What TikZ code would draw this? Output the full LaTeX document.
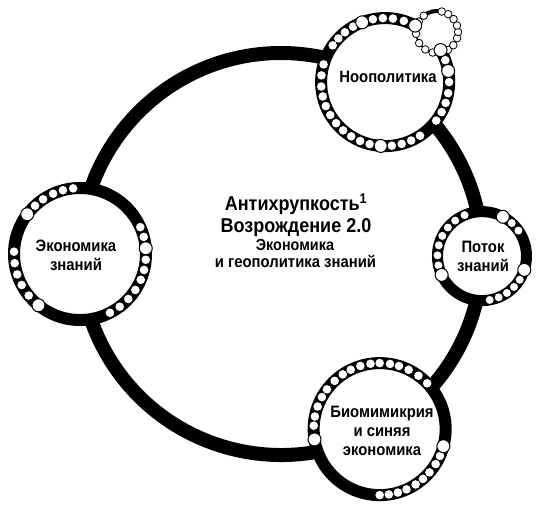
\documentclass[tikz,border=0pt]{standalone}
\usepackage{fontspec}
\setmainfont{Liberation Sans}[FakeStretch=0.9]

\begin{document}
\begin{tikzpicture}[x=1pt,y=1pt,
    spoke/.style={black,line width=14pt},
    ring/.style={black,line width=12pt},
    thinring/.style={black,line width=11pt},
    bead/.style={fill=white},
    bigbead/.style={fill=white,draw=black,line width=1pt},
    beadlet/.style={fill=white,draw=black,line width=0.8pt},
    lbl/.style={align=center,font=\fontsize{16.5}{19}\selectfont\bfseries}]
            \tikzstyle{every node}+=[inner sep=0pt]
            \useasboundingbox (0,0) rectangle (539,-508);
            \coordinate (hub) at (281,-254);
            \coordinate (econ) at ([shift={(180:201)}]hub);
            \coordinate (noo) at ([shift={(58.8:201)}]hub);
            \coordinate (flow) at ([shift={(-0.6:201)}]hub);
            \coordinate (bio) at ([shift={(-60.6:201)}]hub);
            \coordinate (bubble) at (437,-32);
            \draw [spoke] (econ) arc [start angle=180, end angle=58.8, radius=201];
            \draw [spoke] (noo) arc [start angle=58.8, end angle=-0.6, radius=201];
            \draw [spoke] (flow) arc [start angle=-0.6, end angle=-60.6, radius=201];
            \draw [spoke] (bio) arc [start angle=-60.6, end angle=-180, radius=201];
            \fill [white] (econ) circle (66);
            \draw [ring] (econ) circle (66);
            \foreach \a in {96,105,114,124,133,178,188,198,208,219,24,15,-5,-14,-23,-33,-43,-53,-63}
                \fill [bead] ([shift={(\a:66)}]econ) circle (4.3);
            \foreach \a in {143,231,5}
                \filldraw [bigbead] ([shift={(\a:66)}]econ) circle (6.5);
            \node [lbl] (econtext) at (76,-255) {Экономика\\знаний};
            \fill [white] (noo) circle (64);
            \draw [ring] (noo) circle (64);
            \foreach \a in {164,174,-176,-167,-158,-149,-140,-131,-122,-113,-104,-84,-75,-66,-57,-37,-28,-19,-10,0,20,73,83,92,101,120,129,137,145}
                \fill [bead] ([shift={(\a:64)}]noo) circle (4.3);
            \fill [white] (bubble) circle (21);
            \draw [black,line width=1.5pt] (bubble) circle (21);
            \draw [black,line width=4pt] ([shift={(80:21)}]bubble) arc [start angle=80, end angle=125, radius=21];
            \foreach \a in {129,150,-175,-148,-124,-102,-58,-39,-17,0,18,38,58,77}
                \filldraw [beadlet] ([shift={(\a:21)}]bubble) circle (3.8);
            \foreach \a in {111,62,30,10,-94}
                \filldraw [bigbead] ([shift={(\a:64)}]noo) circle (6.5);
            \node [lbl] (nootext) at (388,-77) {Ноополитика};
            \fill [white] (flow) circle (44.5);
            \draw [thinring] (flow) circle (44.5);
            \foreach \a in {113,127,140,153,166,179,192,48,35,-32,-44,-56,-68,-80}
                \fill [bead] ([shift={(\a:44.5)}]flow) circle (4);
            \foreach \a in {205,62,-18}
                \filldraw [bigbead] ([shift={(\a:44.5)}]flow) circle (6.5);
            \node [lbl] (flowtext) at (483,-256) {Поток\\знаний};
            \fill [white] (bio) circle (66);
            \draw [ring] (bio) circle (66);
            \foreach \a in {44,54,64,73,81,90,98,107,116,124,133,143,151,160,169,177,-24,-32,-41,-49,-57,-66,-74,-82,-90}
                \fill [bead] ([shift={(\a:66)}]bio) circle (4.3);
            \foreach \a in {189,-15}
                \filldraw [bigbead] ([shift={(\a:66)}]bio) circle (6.5);
            \node [lbl] (biotext) at (382,-431) {Биомимикрия\\и синяя\\экономика};
            \node [anchor=base,font=\fontsize{20}{22}\selectfont\bfseries] (title) at (296,-211) {Антихрупкость\textsuperscript{1}};
            \node [anchor=base,font=\fontsize{20}{22}\selectfont\bfseries] (subtitle) at (296,-233) {Возрождение 2.0};
            \node [anchor=base,font=\fontsize{16}{18}\selectfont\bfseries] (econline) at (295,-250.5) {Экономика};
            \node [anchor=base,font=\fontsize{16.5}{18}\selectfont\bfseries] (geoline) at (295.5,-268) {и геополитика знаний};
        \end{tikzpicture}
\end{document}
